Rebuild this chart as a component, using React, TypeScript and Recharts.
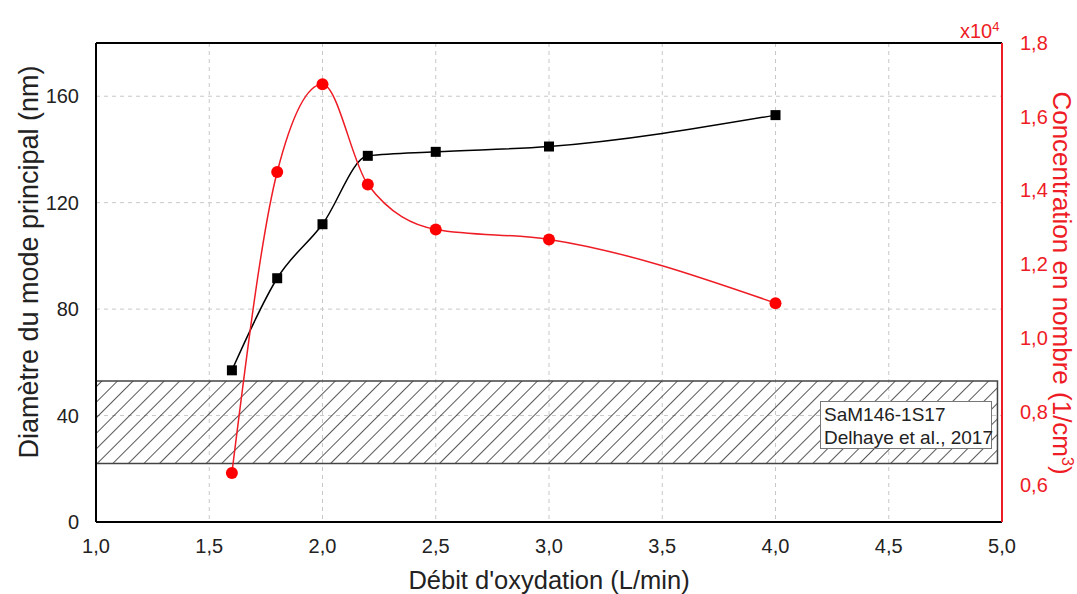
import {
  ComposedChart,
  Line,
  XAxis,
  YAxis,
  CartesianGrid,
  ReferenceArea,
  ReferenceLine,
} from "recharts"

const flowRates = [1.6, 1.8, 2.0, 2.2, 2.5, 3.0, 4.0]
const diameters = [57, 91.6, 111.9, 137.6, 139.1, 141.1, 152.9]
const concentrations = [0.633, 1.45, 1.688, 1.416, 1.294, 1.267, 1.094]

const xTicks = [1, 1.5, 2, 2.5, 3, 3.5, 4, 4.5, 5]
const leftTicks = [0, 40, 80, 120, 160]
const rightTicks = [0.6, 0.8, 1.0, 1.2, 1.4, 1.6, 1.8]

// reference band (Delhaye et al., 2017)
const bandLow = 22
const bandHigh = 53
const bandLabel = ["SaM146-1S17", "Delhaye et al., 2017"]

const data = flowRates.map((x, i) => ({
  x,
  diameter: diameters[i],
  conc: concentrations[i],
}))

const FONT = "'Liberation Sans', Arial, sans-serif"
const RED = "#ee1c25"
const comma = (v: number) => v.toFixed(1).replace(".", ",")

const SquareDot = (props: any) => {
  const { cx, cy, index } = props
  if (cx == null || cy == null) return null
  return <rect key={`sq-${index}`} x={cx - 5} y={cy - 5} width={10} height={10} fill="#000" />
}

export default function App() {
  return (
    <div style={{ position: "absolute", left: 0, top: 0, width: 1077, height: 594, background: "#fff", fontFamily: FONT }}>
      <ComposedChart
        width={1077}
        height={594}
        data={data}
        margin={{ top: 43, right: 25, bottom: 42, left: 36 }}
      >
        <defs>
          <pattern id="hatch" patternUnits="userSpaceOnUse" width={11} height={11} patternTransform="rotate(45)">
            <line x1={0} y1={0} x2={0} y2={11} stroke="#111" strokeWidth={1.4} />
          </pattern>
        </defs>
        <CartesianGrid yAxisId="left" strokeDasharray="4 4" stroke="#c8c8c8" />
        <XAxis
          dataKey="x"
          type="number"
          domain={[1, 5]}
          ticks={xTicks}
          tickFormatter={comma}
          axisLine={{ stroke: "#000", strokeWidth: 2 }}
          tickLine={false}
          tick={{ fontSize: 20, fill: "#222", fontFamily: FONT }}
          tickMargin={11}
          height={30}
          label={{ value: "Débit d'oxydation (L/min)", position: "insideBottom", offset: -37, fontSize: 25.5, fill: "#222", fontFamily: FONT }}
        />
        <YAxis
          yAxisId="left"
          domain={[0, 180]}
          ticks={leftTicks}
          axisLine={{ stroke: "#000", strokeWidth: 2 }}
          tickLine={false}
          tick={{ fontSize: 20, fill: "#222", fontFamily: FONT }}
          tickMargin={11}
          width={60}
        />
        <YAxis
          yAxisId="right"
          orientation="right"
          domain={[0.5, 1.8]}
          ticks={rightTicks}
          tickFormatter={comma}
          axisLine={{ stroke: RED, strokeWidth: 2 }}
          tickLine={false}
          tick={{ fontSize: 20, fill: RED, fontFamily: FONT }}
          tickMargin={12}
          width={50}
        />
        <ReferenceArea
          yAxisId="left"
          x1={1}
          x2={4.98}
          y1={bandLow}
          y2={bandHigh}
          fill="url(#hatch)"
          fillOpacity={1}
          stroke="#444"
          strokeWidth={1.5}
        />
        <ReferenceLine yAxisId="left" y={180} stroke="#000" strokeWidth={2} />
        <Line
          yAxisId="left"
          dataKey="diameter"
          type="monotone"
          stroke="#000"
          strokeWidth={1.5}
          dot={<SquareDot />}
          isAnimationActive={false}
        />
        <Line
          yAxisId="right"
          dataKey="conc"
          type="monotone"
          stroke={RED}
          strokeWidth={1.5}
          dot={{ r: 6, fill: "#ff0000", stroke: "#ff0000", strokeWidth: 0 }}
          isAnimationActive={false}
        />
      </ComposedChart>
      <div
        style={{
          position: "absolute",
          left: 820,
          top: 401,
          width: 172,
          height: 48,
          border: "1.5px solid #777",
          background: "#fff",
          fontSize: 19,
          lineHeight: "23px",
          color: "#222",
          padding: "1px 0 0 3px",
          boxSizing: "border-box",
          whiteSpace: "nowrap",
        }}
      >
        {bandLabel.map((t) => (
          <div key={t}>{t}</div>
        ))}
      </div>
      <div style={{ position: "absolute", left: 960, top: 20, color: RED, fontSize: 20 }}>
        x10<sup style={{ fontSize: 13, verticalAlign: "7px", lineHeight: 0 }}>4</sup>
      </div>
      <div
        style={{
          position: "absolute",
          left: 29,
          top: 262,
          transform: "translate(-50%, -50%) rotate(-90deg)",
          whiteSpace: "nowrap",
          color: "#222",
          fontSize: 27,
        }}
      >
        Diamètre du mode principal (nm)
      </div>
      <div
        style={{
          position: "absolute",
          left: 1061,
          top: 283,
          transform: "translate(-50%, -50%) rotate(90deg)",
          whiteSpace: "nowrap",
          color: RED,
          fontSize: 26,
        }}
      >
        Concentration en nombre (1/cm<sup style={{ fontSize: 16, lineHeight: 0 }}>3</sup>)
      </div>
    </div>
  )
}
